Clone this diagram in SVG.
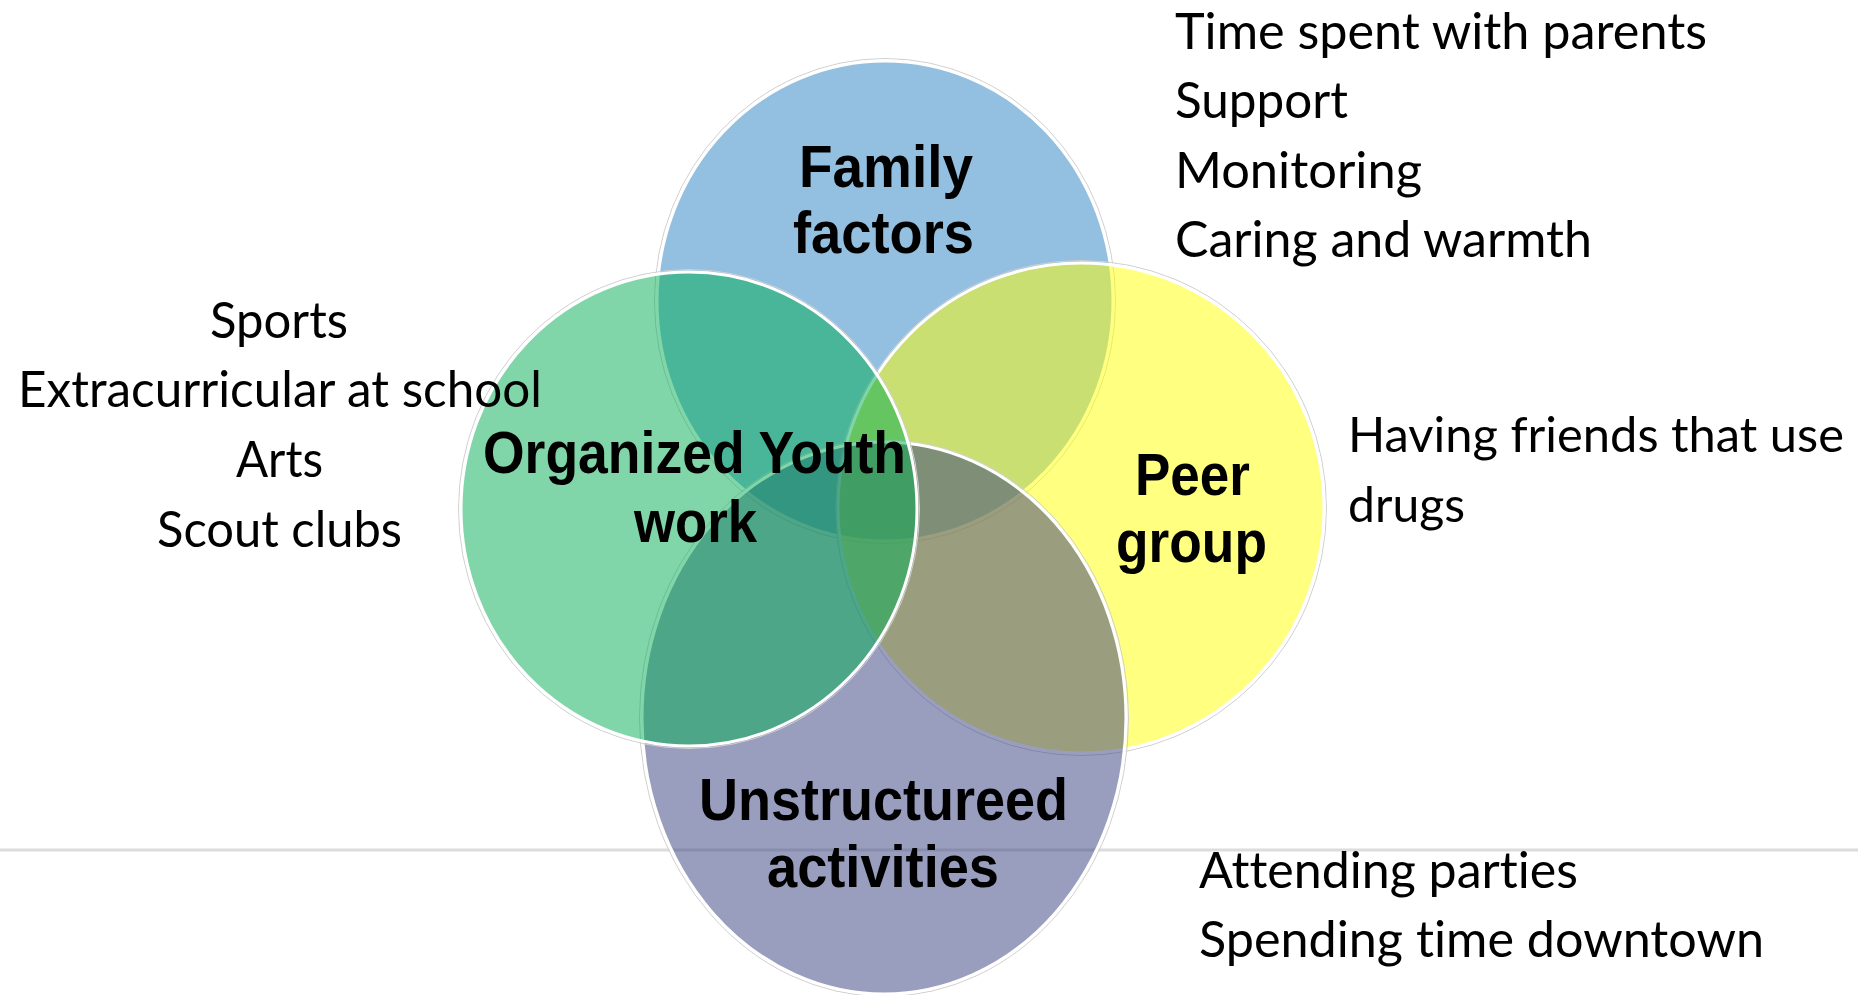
<svg xmlns="http://www.w3.org/2000/svg" width="1858" height="995" viewBox="0 0 1858 995">
<style>
.c{fill-opacity:0.5;stroke:#ffffff;stroke-width:3}
.h{fill:none;stroke:#d0d0d0;stroke-width:1}
.t{font-family:"Lato","Open Sans",sans-serif;font-size:51px;fill:#000;font-variant-ligatures:none;font-feature-settings:"liga" 0,"clig" 0,"dlig" 0,"calt" 0}
.s{font-size:48px}
.b{font-family:"Liberation Sans",Arial,sans-serif;font-size:59px;font-weight:bold;fill:#000}
</style>
<rect width="1858" height="995" fill="#ffffff"/>
<line x1="0" y1="850" x2="1858" y2="850" stroke="#dcdcdc" stroke-width="3"/>
<g id="family">
<ellipse class="h" cx="885" cy="301" rx="230.5" ry="242.5"/>
<ellipse class="c" cx="885" cy="301" rx="228" ry="240" fill="#277fc1"/>
</g>
<g id="peer">
<ellipse class="h" cx="1081" cy="508" rx="245.5" ry="247.5"/>
<ellipse class="c" cx="1081" cy="508" rx="243" ry="245" fill="#ffff01"/>
</g>
<g id="unstructured">
<ellipse class="h" cx="884" cy="718" rx="244.5" ry="278.5"/>
<ellipse class="c" cx="884" cy="718" rx="242" ry="276" fill="#353d7d"/>
</g>
<g id="organized">
<ellipse class="h" cx="689" cy="509" rx="230.5" ry="239.5"/>
<ellipse class="c" cx="689" cy="509" rx="228" ry="237" fill="#01ad51"/>
</g>
<g id="labels">
<text class="b" x="799" y="187" textLength="174" lengthAdjust="spacingAndGlyphs">Family</text>
<text class="b" x="793" y="253" textLength="181" lengthAdjust="spacingAndGlyphs">factors</text>
<text class="b" x="483" y="473" textLength="423" lengthAdjust="spacingAndGlyphs">Organized Youth</text>
<text class="b" x="634" y="542" textLength="123" lengthAdjust="spacingAndGlyphs">work</text>
<text class="b" x="1135" y="495" textLength="115" lengthAdjust="spacingAndGlyphs">Peer</text>
<text class="b" x="1116" y="562" textLength="151" lengthAdjust="spacingAndGlyphs">group</text>
<text class="b" x="699" y="820" textLength="369" lengthAdjust="spacingAndGlyphs">Unstructureed</text>
<text class="b" x="767" y="887" textLength="232" lengthAdjust="spacingAndGlyphs">activities</text>
</g>
<g id="notes">
<text class="t" x="1175" y="49" textLength="532" lengthAdjust="spacingAndGlyphs">Time spent with parents</text>
<text class="t" x="1175" y="118" textLength="173" lengthAdjust="spacingAndGlyphs">Support</text>
<text class="t" x="1175" y="188" textLength="247" lengthAdjust="spacingAndGlyphs">Monitoring</text>
<text class="t" x="1175" y="257" textLength="417" lengthAdjust="spacingAndGlyphs">Caring and warmth</text>
<text class="t s" x="1348" y="452" textLength="496" lengthAdjust="spacingAndGlyphs">Having friends that use</text>
<text class="t s" x="1348" y="522" textLength="117" lengthAdjust="spacingAndGlyphs">drugs</text>
<text class="t" x="1199" y="888" textLength="379" lengthAdjust="spacingAndGlyphs">At&#x200C;tending parties</text>
<text class="t" x="1199" y="957" textLength="565" lengthAdjust="spacingAndGlyphs">Spending t&#x200C;ime downtown</text>
<text class="t" x="210" y="338" textLength="138" lengthAdjust="spacingAndGlyphs">Sports</text>
<text class="t" x="18" y="407" textLength="524" lengthAdjust="spacingAndGlyphs">Extracurricular at school</text>
<text class="t" x="236" y="477" textLength="87" lengthAdjust="spacingAndGlyphs">Arts</text>
<text class="t" x="157" y="547" textLength="245" lengthAdjust="spacingAndGlyphs">Scout clubs</text>
</g>
</svg>
